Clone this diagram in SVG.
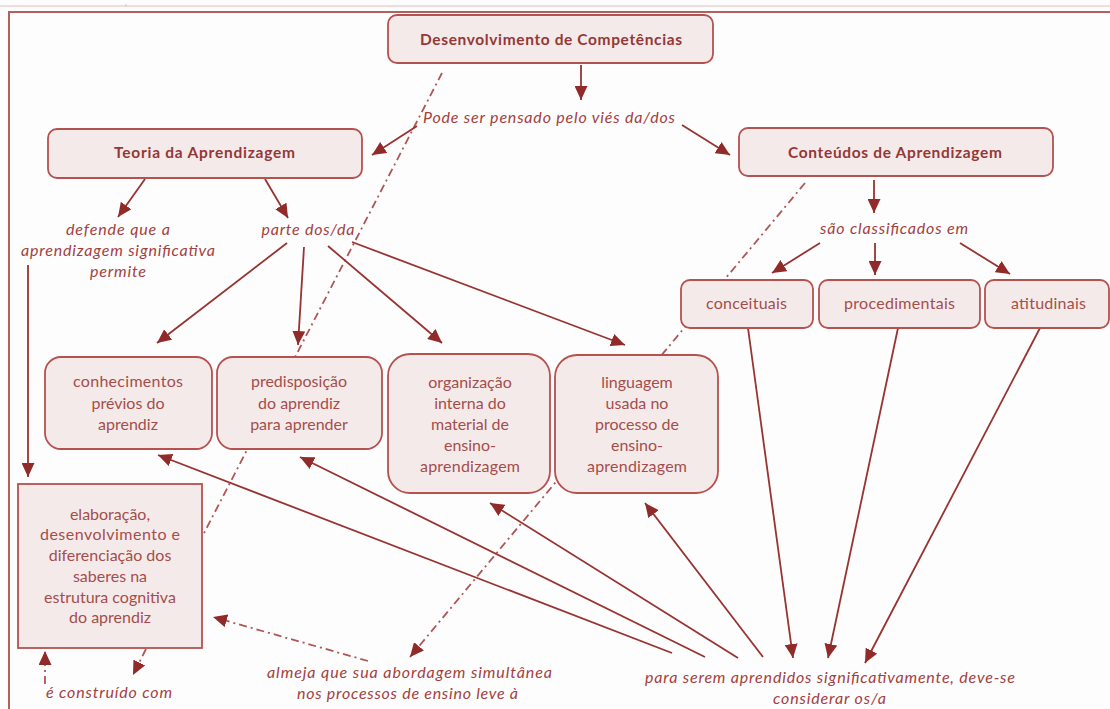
<svg xmlns="http://www.w3.org/2000/svg" width="1110" height="709" viewBox="0 0 1110 709">
  <style>
    .box { fill: #f5eaea; stroke: #b5514f; stroke-width: 1.8; }
    .title { font-family: Lato, "Open Sans", "Liberation Sans", sans-serif; font-size: 15.5px; font-weight: bold; fill: #933836; text-anchor: middle; }
    .txt { font-family: Lato, "Open Sans", "Liberation Sans", sans-serif; font-size: 16px; fill: #a44e4b; text-anchor: middle; }
    .lbl { font-family: Lato, "Open Sans", "Liberation Sans", sans-serif; font-size: 16px; font-style: italic; fill: #a3403e; text-anchor: middle; }
    .arr { fill: none; stroke: #973331; stroke-width: 1.8; marker-end: url(#head); }
    .dd { fill: none; stroke: #ad5654; stroke-width: 1.8; stroke-dasharray: 8 4 2 4; }
    .dda { fill: none; stroke: #ad5654; stroke-width: 1.8; stroke-dasharray: 8 4 2 4; marker-end: url(#head); }
  </style>
  <defs>
    <marker id="head" viewBox="0 0 14 13" refX="14" refY="6.5" markerWidth="14" markerHeight="13" markerUnits="userSpaceOnUse" orient="auto">
      <path d="M0,0 L14,6.5 L0,13 z" fill="#912b2a"/>
    </marker>
  </defs>

  <rect width="1110" height="709" fill="#fefdfd"/>

  <!-- page rule and frame -->
  <line x1="0" y1="6" x2="1110" y2="6" stroke="#ead0cf" stroke-width="1.5"/>
  <line x1="126" y1="4" x2="126" y2="7" stroke="#e3c6c5" stroke-width="1"/>
  <path d="M9,709 V12 H1110" fill="none" stroke="#b4615e" stroke-width="2"/>

  <g id="connectors">
    <!-- dash-dot links, running behind the boxes -->
    <line class="dd" x1="442" y1="73" x2="202" y2="537"/>
    <line class="dda" x1="805" y1="183" x2="410" y2="657"/>
    <line class="dda" x1="368" y1="661" x2="213" y2="617"/>
    <line class="dda" x1="45" y1="684" x2="45" y2="651"/>
    <line class="dda" x1="146" y1="649" x2="133" y2="675"/>

    <!-- solid arrows -->
    <line class="arr" x1="581" y1="65" x2="581" y2="100"/>
    <line class="arr" x1="417" y1="126" x2="372" y2="155"/>
    <line class="arr" x1="682" y1="125" x2="730" y2="155"/>
    <line class="arr" x1="145" y1="179" x2="118" y2="217"/>
    <line class="arr" x1="265" y1="179" x2="288" y2="218"/>
    <line class="arr" x1="287" y1="243" x2="157" y2="343"/>
    <line class="arr" x1="304" y1="247" x2="298" y2="345"/>
    <line class="arr" x1="328" y1="246" x2="442" y2="343"/>
    <line class="arr" x1="352" y1="242" x2="625" y2="345"/>
    <line class="arr" x1="28" y1="265" x2="28" y2="477"/>
    <line class="arr" x1="874" y1="180" x2="874" y2="213"/>
    <line class="arr" x1="820" y1="243" x2="772" y2="273"/>
    <line class="arr" x1="875" y1="243" x2="875" y2="275"/>
    <line class="arr" x1="960" y1="243" x2="1010" y2="274"/>
    <line class="arr" x1="748" y1="328" x2="793" y2="658"/>
    <line class="arr" x1="898" y1="328" x2="828" y2="658"/>
    <line class="arr" x1="1040" y1="328" x2="865" y2="663"/>
    <line class="arr" x1="672" y1="653" x2="158" y2="455"/>
    <line class="arr" x1="705" y1="657" x2="300" y2="457"/>
    <line class="arr" x1="738" y1="658" x2="490" y2="503"/>
    <line class="arr" x1="763" y1="657" x2="645" y2="503"/>
  </g>

  <!-- linking phrases -->
  <g id="labels">
    <text class="lbl" x="549" y="123" textLength="252" lengthAdjust="spacing">Pode ser pensado pelo viés da/dos</text>
    <text class="lbl" x="894" y="234" textLength="148" lengthAdjust="spacing">são classificados em</text>
    <text class="lbl" x="118" y="235" textLength="104" lengthAdjust="spacing">defende que a</text>
    <text class="lbl" x="118" y="256" textLength="194" lengthAdjust="spacing">aprendizagem significativa</text>
    <text class="lbl" x="118" y="277" textLength="56" lengthAdjust="spacing">permite</text>
    <text class="lbl" x="308" y="235" textLength="93" lengthAdjust="spacing">parte dos/da</text>
    <text class="lbl" x="109" y="698" textLength="126" lengthAdjust="spacing">é construído com</text>
    <text class="lbl" x="409.5" y="678" textLength="285" lengthAdjust="spacing">almeja que sua abordagem simultânea</text>
    <text class="lbl" x="407.5" y="699" textLength="221" lengthAdjust="spacing">nos processos de ensino leve à</text>
    <text class="lbl" x="830" y="683" textLength="370" lengthAdjust="spacing">para serem aprendidos significativamente, deve-se</text>
    <text class="lbl" x="829.5" y="704" textLength="113" lengthAdjust="spacing">considerar os/a</text>
  </g>

  <g id="desenvolvimento">
    <rect class="box" x="388" y="15" width="325" height="48" rx="9"/>
    <text class="title" x="551" y="45" textLength="262" lengthAdjust="spacing">Desenvolvimento de Competências</text>
  </g>
  <g id="teoria">
    <rect class="box" x="48" y="129" width="314" height="49" rx="9"/>
    <text class="title" x="204.5" y="158" textLength="181" lengthAdjust="spacing">Teoria da Aprendizagem</text>
  </g>
  <g id="conteudos">
    <rect class="box" x="739" y="128" width="314" height="48" rx="9"/>
    <text class="title" x="895" y="158" textLength="214" lengthAdjust="spacing">Conteúdos de Aprendizagem</text>
  </g>
  <g id="conceituais">
    <rect class="box" x="681" y="280" width="132" height="48" rx="9"/>
    <text class="txt" x="746.5" y="309" textLength="81" lengthAdjust="spacing">conceituais</text>
  </g>
  <g id="procedimentais">
    <rect class="box" x="819" y="280" width="161" height="48" rx="9"/>
    <text class="txt" x="899.5" y="309" textLength="111" lengthAdjust="spacing">procedimentais</text>
  </g>
  <g id="atitudinais">
    <rect class="box" x="985" y="280" width="124" height="48" rx="9"/>
    <text class="txt" x="1048.5" y="309" textLength="75" lengthAdjust="spacing">atitudinais</text>
  </g>
  <g id="conhecimentos">
    <rect class="box" x="45" y="357" width="167" height="92" rx="16"/>
    <text class="txt" x="128" y="387" textLength="110" lengthAdjust="spacing">conhecimentos</text>
    <text class="txt" x="128" y="409">prévios do</text>
    <text class="txt" x="128" y="430">aprendiz</text>
  </g>
  <g id="predisposicao">
    <rect class="box" x="217" y="357" width="165" height="92" rx="16"/>
    <text class="txt" x="299" y="387">predisposição</text>
    <text class="txt" x="299" y="409">do aprendiz</text>
    <text class="txt" x="299" y="430">para aprender</text>
  </g>
  <g id="organizacao">
    <rect class="box" x="388" y="354" width="162" height="139" rx="22"/>
    <text class="txt" x="470" y="388">organização</text>
    <text class="txt" x="470" y="409">interna do</text>
    <text class="txt" x="470" y="430">material de</text>
    <text class="txt" x="470" y="451">ensino-</text>
    <text class="txt" x="470" y="472" textLength="100" lengthAdjust="spacing">aprendizagem</text>
  </g>
  <g id="linguagem">
    <rect class="box" x="555" y="355" width="163" height="138" rx="22"/>
    <text class="txt" x="637" y="388">linguagem</text>
    <text class="txt" x="637" y="409">usada no</text>
    <text class="txt" x="637" y="430">processo de</text>
    <text class="txt" x="637" y="451">ensino-</text>
    <text class="txt" x="637" y="472" textLength="100" lengthAdjust="spacing">aprendizagem</text>
  </g>
  <g id="elaboracao">
    <rect class="box" x="18" y="484" width="184" height="164"/>
    <text class="txt" x="110" y="520">elaboração,</text>
    <text class="txt" x="110" y="540" textLength="140" lengthAdjust="spacing">desenvolvimento e</text>
    <text class="txt" x="110" y="561">diferenciação dos</text>
    <text class="txt" x="110" y="582">saberes na</text>
    <text class="txt" x="110" y="603">estrutura cognitiva</text>
    <text class="txt" x="110" y="623">do aprendiz</text>
  </g>
</svg>
